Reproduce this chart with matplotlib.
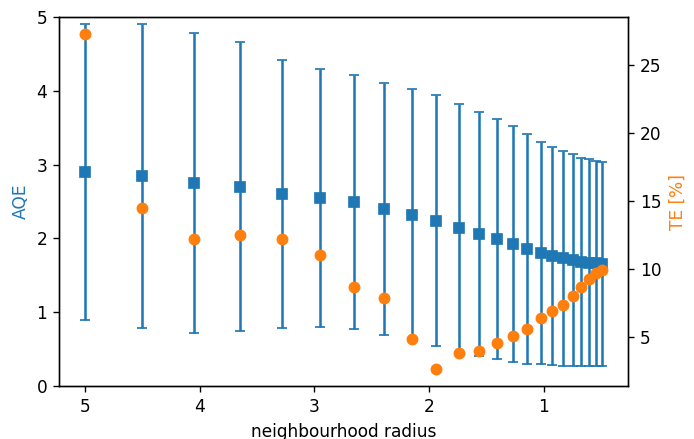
import matplotlib
matplotlib.use("Agg")
import matplotlib.pyplot as plt

DPI = 122

# neighbourhood radius per training step
radius = [5.0, 4.5, 4.05, 3.645, 3.28, 2.952, 2.657, 2.391, 2.152, 1.937,
          1.743, 1.569, 1.412, 1.271, 1.144, 1.029, 0.926, 0.834, 0.750,
          0.675, 0.608, 0.547, 0.492]

# average quantization error and its spread
aqe = [2.90, 2.85, 2.75, 2.70, 2.60, 2.55, 2.49, 2.40, 2.32, 2.24,
       2.14, 2.06, 1.99, 1.92, 1.86, 1.80, 1.76, 1.73, 1.71, 1.68,
       1.67, 1.66, 1.65]
aqe_std = [2.01, 2.06, 2.03, 1.96, 1.82, 1.75, 1.72, 1.71, 1.70, 1.70,
           1.68, 1.66, 1.63, 1.60, 1.56, 1.51, 1.48, 1.455, 1.44, 1.41,
           1.40, 1.39, 1.385]

# topographic error in percent
te = [27.30, 14.49, 12.18, 12.48, 12.21, 11.05, 8.70, 7.85, 4.85, 2.62,
      3.77, 3.99, 4.51, 5.07, 5.59, 6.37, 6.89, 7.35, 8.01, 8.70,
      9.24, 9.68, 9.93]

fig, ax = plt.subplots(figsize=(694 / DPI, 439 / DPI), dpi=DPI)
fig.subplots_adjust(left=0.085, right=0.905, bottom=0.121, top=0.961)

ax.errorbar(radius, aqe, yerr=aqe_std, fmt="s", color="C0", capsize=3)
ax.set_ylim(0, 5)
ax.set_ylabel("AQE", color="C0")
ax.set_xlabel("neighbourhood radius")
ax.invert_xaxis()

ax2 = ax.twinx()
ax2.plot(radius, te, "o", color="C1")
ax2.set_ylabel("TE [%]", color="C1")

fig.savefig("out.png", dpi=DPI)
